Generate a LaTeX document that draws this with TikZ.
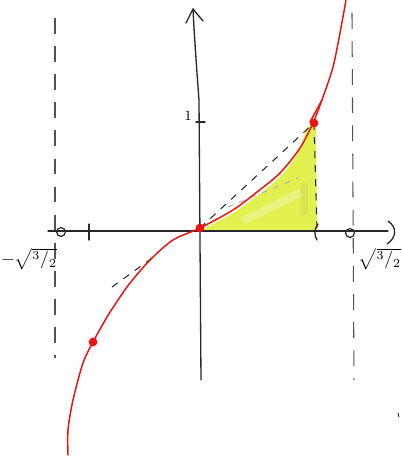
\documentclass[tikz,border=0pt]{standalone}
\usetikzlibrary{calc}
\definecolor{curvered}{RGB}{232,20,20}
\definecolor{hiyellow}{RGB}{226,240,80}
\definecolor{axisgray}{RGB}{40,40,40}
\begin{document}
\begin{tikzpicture}[x=0.02cm,y=-0.02cm,
  axisline/.style={draw=axisgray,line width=0.75pt,line cap=round,line join=round},
  asym/.style={draw=axisgray!80,line width=0.6pt,dash pattern=on 9pt off 7pt},
  helper/.style={draw=axisgray,line width=0.6pt,dash pattern=on 4pt off 4pt},
  faint/.style={draw=gray!60,line width=0.6pt,dash pattern=on 3pt off 4pt},
  fcurve/.style={draw=curvered,line width=0.85pt,line cap=round},
  dotmark/.style={circle,fill=curvered,inner sep=0pt,minimum size=5pt},
  hole/.style={circle,draw=axisgray,line width=0.7pt,inner sep=0pt,minimum size=5pt},
  lbl/.style={inner sep=0pt}]
\useasboundingbox (0,0) rectangle (402,458);
% yellow area
\fill[hiyellow] plot[smooth] coordinates {(201,230) (233,213) (257,196) (280,177) (298,153) (307,127)}
  -- (316,124) -- (317,231) -- cycle;
\fill[hiyellow!55!white,opacity=0.6] (240,218) -- (300,188) -- (303,196) -- (246,224) -- cycle;
\fill[hiyellow!80!black!90,opacity=0.25] (300,185) -- (308,183) -- (308,214) -- (301,216) -- cycle;
% asymptotes
\coordinate (aLt) at (55,18);
\coordinate (aLb) at (55,358);
\coordinate (aRt) at (352,13);
\coordinate (aRb) at (354,380);
\draw[asym] (aLt) -- (aLb);
\draw[asym] (aRt) -- (aRb);
% axes
\coordinate (xl) at (48,231);
\coordinate (xr) at (388,231);
\coordinate (yb) at (201,380);
\coordinate (ym) at (199,100);
\coordinate (yt) at (193,9);
\draw[axisline] (xl) -- (xr);
\draw[axisline] (388,221) .. controls (398,228) and (396,238) .. (387,244);
\draw[axisline] (yb) -- (ym) .. controls (196,60) and (194,30) .. (yt);
\draw[axisline] (186,23) -- (yt) -- (203,21);
% ticks
\draw[axisline] (89,224) -- (89,240);
\draw[axisline] (318,224) .. controls (314,229) and (314,235) .. (317,240);
\draw[axisline] (196,122) -- (205,122);
% holes
\node[hole] (hL) at (61,232) {};
\node[hole] (hR) at (350,233) {};
% labels
\node[lbl] (lL) at (29,259) {$-\sqrt{{}^{3}/{}_{2}}$};
\node[lbl] (lR) at (380,259) {$\sqrt{{}^{3}/{}_{2}}$};
\node[lbl,font=\footnotesize] (l1) at (188,116) {1};
% dashed helpers
\coordinate (O) at (200,228);
\coordinate (P) at (314,123);
\draw[helper] (O) -- (P);
\draw[helper] (P) -- (317,230);
\draw[faint] (228,207) -- (298,178);
\draw[helper] (112,287) -- (155,256);
% curve
\draw[fcurve] plot[smooth] coordinates {(68,455) (68,430) (73,400) (83,363) (93,342) (107,317) (118,300) (130,283) (150,260) (173,240) (200,228) (233,210) (257,192) (280,173) (300,148) (313,123) (323,97) (333,67) (340,33) (346,0)};
\draw[fcurve] (310,122) -- (322,100);
% points
\node[dotmark] (pO) at (O) {};
\node[dotmark] (pP) at (P) {};
\node[dotmark] (pL) at (93,342) {};
% stray mark
\draw[axisline,line width=0.5pt] (398,413) -- (399,417);
\end{tikzpicture}
\end{document}
